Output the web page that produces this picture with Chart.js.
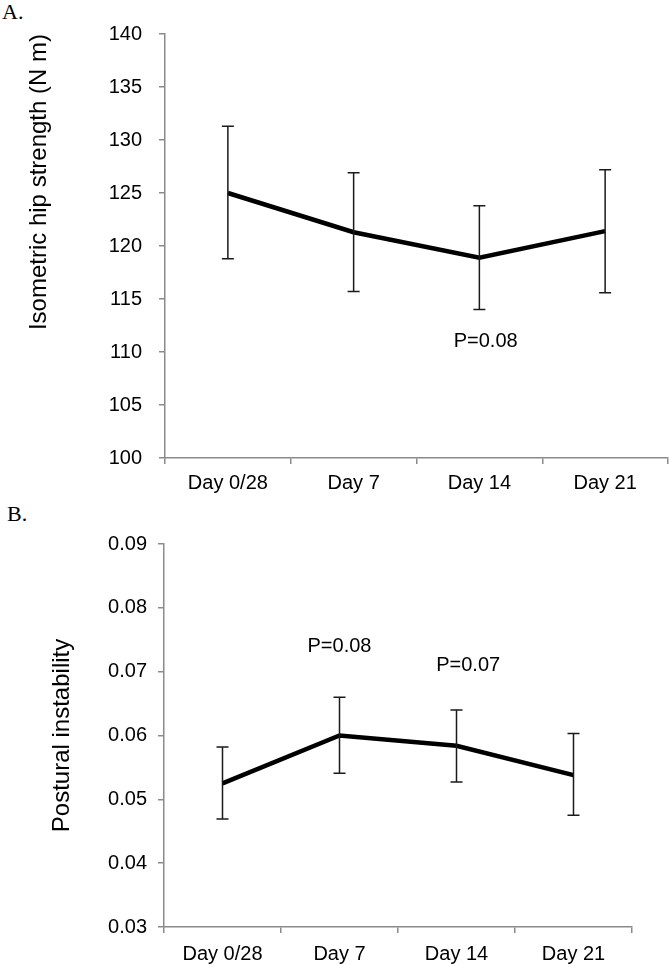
<!DOCTYPE html>
<html>
<head>
<meta charset="utf-8">
<script src="https://cdn.jsdelivr.net/npm/chart.js@4.4.0/dist/chart.umd.min.js"></script>
<style>
    body { margin: 0; background: #fff; width: 669px; height: 964px; position: relative; overflow: hidden; }
    .panel-label { position: absolute; font-family: "Liberation Serif", serif; font-size: 22px; color: #000; }
    canvas { position: absolute; left: 0; }
</style>
</head>
<body>
<div class="panel-label" style="left:2px; top:-1px;">A.</div>
<div class="panel-label" style="left:7px; top:501px;">B.</div>
<canvas id="chartA" width="669" height="500" style="top:0;"></canvas>
<canvas id="chartB" width="669" height="464" style="top:500px;"></canvas>

<script>
const days = ['Day 0/28', 'Day 7', 'Day 14', 'Day 21'];

// A. isometric hip strength (N m)
const hipMean = [125.0, 121.3, 118.9, 121.4];
const hipUpper = [131.3, 126.9, 123.8, 127.2];
const hipLower = [118.8, 115.7, 114.0, 115.6];
const hipTicks = [100, 140, 5]; // min, max, step
const hipNotes = [[2.05, 111.0, 'P=0.08']];

// B. postural instability
const postMean = [0.0525, 0.0600, 0.0584, 0.0538];
const postUpper = [0.0582, 0.0660, 0.0640, 0.0603];
const postLower = [0.0469, 0.0541, 0.0527, 0.0475];
const postTicks = [0.03, 0.09, 0.01];
const postNotes = [[1.0, 0.0739, 'P=0.08'], [2.1, 0.0709, 'P=0.07']];

const FONT = '"Liberation Sans", Arial, sans-serif';
const AXIS_GREY = '#8a8a8a';

// error bars + p-value labels, positioned through the chart scales
const extrasPlugin = {
    id: 'extras',
    afterDatasetsDraw(chart, args, opts) {
        const { ctx, scales: { x, y } } = chart;
        ctx.save();
        ctx.strokeStyle = '#1a1a1a';
        ctx.lineWidth = 1.5;
        opts.upper.forEach((hi, i) => {
            const px = x.getPixelForValue(i);
            const top = y.getPixelForValue(hi);
            const bot = y.getPixelForValue(opts.lower[i]);
            ctx.beginPath();
            ctx.moveTo(px, top); ctx.lineTo(px, bot);
            ctx.moveTo(px - 6, top); ctx.lineTo(px + 6, top);
            ctx.moveTo(px - 6, bot); ctx.lineTo(px + 6, bot);
            ctx.stroke();
        });
        ctx.fillStyle = '#000';
        ctx.font = '20px ' + FONT;
        ctx.textAlign = 'center';
        ctx.textBaseline = 'middle';
        opts.notes.forEach(n => {
            ctx.fillText(n[2], x.getPixelForValue(n[0]), y.getPixelForValue(n[1]));
        });
        ctx.restore();
    }
};

function makeChart(id, cfg) {
    const ctx = document.getElementById(id).getContext('2d');
    return new Chart(ctx, {
        type: 'line',
        data: {
            labels: days,
            datasets: [{
                data: cfg.mean,
                borderColor: '#000',
                borderWidth: 4.5,
                pointRadius: 0,
                tension: 0
            }]
        },
        plugins: [extrasPlugin],
        options: {
            responsive: false,
            animation: false,
            layout: { padding: cfg.padding },
            plugins: {
                legend: { display: false },
                tooltip: { enabled: false },
                extras: { upper: cfg.upper, lower: cfg.lower, notes: cfg.notes }
            },
            scales: {
                x: {
                    offset: true,
                    grid: { display: true, offset: true, drawOnChartArea: false, tickLength: 6, color: AXIS_GREY, lineWidth: 1.5 },
                    border: { color: AXIS_GREY, width: 1.5 },
                    ticks: { color: '#000', font: { family: FONT, size: 20 }, padding: cfg.xPad, maxRotation: 0 },
                    afterFit: s => { s.height = cfg.xHeight; }
                },
                y: {
                    min: cfg.ticks[0],
                    max: cfg.ticks[1],
                    grid: { display: true, drawOnChartArea: false, tickLength: 6, color: AXIS_GREY, lineWidth: 1.5 },
                    border: { color: AXIS_GREY, width: 1.5 },
                    ticks: {
                        stepSize: cfg.ticks[2],
                        color: '#000',
                        font: { family: FONT, size: 20 },
                        padding: cfg.yPad,
                        callback: v => cfg.decimals ? Number(v).toFixed(cfg.decimals) : v
                    },
                    title: {
                        display: true,
                        text: cfg.title,
                        align: cfg.titleAlign,
                        color: '#000',
                        font: { family: FONT, size: 24 },
                        padding: { top: cfg.titlePad, bottom: 0 }
                    },
                    afterFit: s => { s.width = cfg.yWidth; }
                }
            }
        }
    });
}

makeChart('chartA', {
    mean: hipMean, upper: hipUpper, lower: hipLower, notes: hipNotes, ticks: hipTicks, decimals: 0,
    title: 'Isometric hip strength (N m)', titleAlign: 'end', titlePad: 25,
    padding: { top: 34, right: 1, left: 0, bottom: 0 },
    yWidth: 165, xHeight: 42, xPad: 7, yPad: 17
});

makeChart('chartB', {
    mean: postMean, upper: postUpper, lower: postLower, notes: postNotes, ticks: postTicks, decimals: 2,
    title: 'Postural instability', titleAlign: 'center', titlePad: 48,
    padding: { top: 44, right: 37, left: 0, bottom: 0 },
    yWidth: 164, xHeight: 37, xPad: 9, yPad: 11
});
</script>
</body>
</html>
